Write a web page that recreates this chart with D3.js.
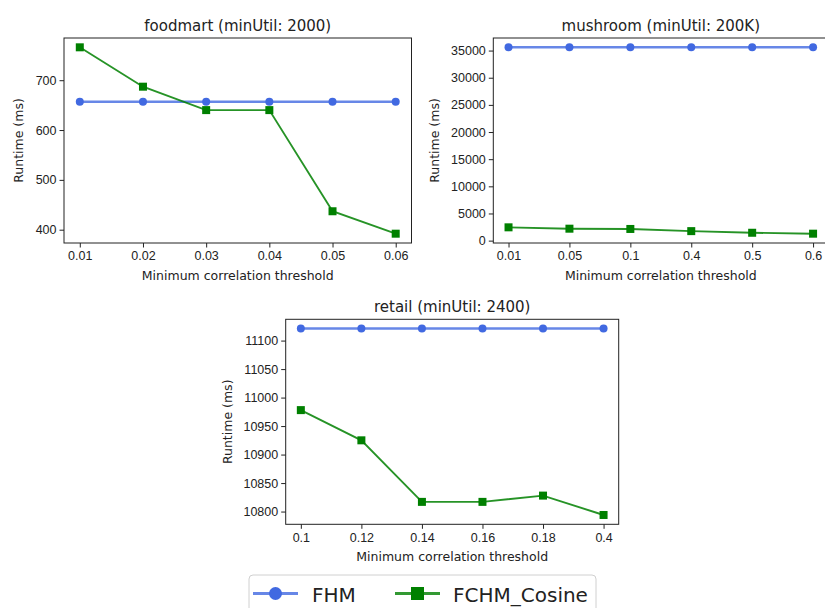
<!DOCTYPE html>
<html>
<head>
<meta charset="utf-8">
<script src="https://cdn.jsdelivr.net/npm/d3@7"></script>
<style>
  body { margin: 0; background: #fff; }
  svg { display: block; font-family: "DejaVu Sans", sans-serif; }
  .axis path, .axis line { stroke: #222; stroke-width: 1; }
  .axis text { fill: #222; font-size: 12.5px; }
</style>
</head>
<body>
<div id="chart"></div>
<script>
// x categories (thresholds)
var foodThresholds = ["0.01", "0.02", "0.03", "0.04", "0.05", "0.06"];
var mushThresholds = ["0.01", "0.05", "0.1", "0.4", "0.5", "0.6"];
var retailThresholds = ["0.1", "0.12", "0.14", "0.16", "0.18", "0.4"];

// runtimes (ms)
var foodFHM = [657, 657, 657, 657, 657, 657];
var foodFCHM = [766, 687, 640, 640, 437, 392];
var mushFHM = [35600, 35600, 35600, 35600, 35600, 35600];
var mushFCHM = [2450, 2200, 2150, 1750, 1450, 1280];
var retailFHM = [11121, 11121, 11121, 11121, 11121, 11121];
var retailFCHM = [10978, 10925, 10817, 10817, 10828, 10794];

// y tick labels
var foodTicks = [400, 500, 600, 700];
var mushTicks = [0, 5000, 10000, 15000, 20000, 25000, 30000, 35000];
var retailTicks = [10800, 10850, 10900, 10950, 11000, 11050, 11100];

var seriesNames = ["FHM", "FCHM_Cosine"];

var W = 825, H = 608;
var blue = "#4169e1", green = "#008000";

var svg = d3.select("#chart").append("svg")
  .attr("width", W)
  .attr("height", H);

var panels = [
  { title: "foodmart (minUtil: 2000)", cats: foodThresholds, fhm: foodFHM, fchm: foodFCHM, ticks: foodTicks,
    left: 64, top: 38, width: 347.5, height: 205, ylab: 18 },
  { title: "mushroom (minUtil: 200K)", cats: mushThresholds, fhm: mushFHM, fchm: mushFCHM, ticks: mushTicks,
    left: 493.3, top: 38, width: 335, height: 205, ylab: 434 },
  { title: "retail (minUtil: 2400)", cats: retailThresholds, fhm: retailFHM, fchm: retailFCHM, ticks: retailTicks,
    left: 285.7, top: 319.3, width: 333, height: 205, ylab: 227 }
];

panels.forEach(function(p) {
  var g = svg.append("g")
    .attr("transform", "translate(" + p.left + "," + p.top + ")");

  var x = d3.scalePoint().domain(p.cats).range([0, p.width]).padding(0.25);

  // matplotlib-style autoscale: 5% margin on the data range
  var all = p.fhm.concat(p.fchm);
  var lo = d3.min(all), hi = d3.max(all), m = (hi - lo) * 0.05;
  var y = d3.scaleLinear().domain([lo - m, hi + m]).range([p.height, 0]);

  g.append("rect")
    .attr("width", p.width)
    .attr("height", p.height)
    .attr("fill", "none")
    .attr("stroke", "#222")
    .attr("stroke-width", 1);

  g.append("g")
    .attr("class", "axis")
    .attr("transform", "translate(0," + p.height + ")")
    .call(d3.axisBottom(x).tickSize(4.5).tickPadding(4))
    .call(function(a) { a.select(".domain").remove(); });

  g.append("g")
    .attr("class", "axis")
    .call(d3.axisLeft(y).tickValues(p.ticks).tickFormat(d3.format("d")).tickSize(4.5).tickPadding(3))
    .call(function(a) { a.select(".domain").remove(); });

  g.append("text")
    .attr("x", p.width / 2)
    .attr("y", -7.5)
    .attr("text-anchor", "middle")
    .attr("font-size", 15)
    .attr("fill", "#222")
    .text(p.title);

  g.append("text")
    .attr("x", p.width / 2)
    .attr("y", p.height + 36.5)
    .attr("text-anchor", "middle")
    .attr("font-size", 12.5)
    .attr("fill", "#222")
    .text("Minimum correlation threshold");

  svg.append("text")
    .attr("transform", "translate(" + (p.ylab + 5) + "," + (p.top + p.height / 2) + ") rotate(-90)")
    .attr("text-anchor", "middle")
    .attr("font-size", 12.5)
    .attr("fill", "#222")
    .text("Runtime (ms)");

  var line = d3.line()
    .x(function(d, i) { return x(p.cats[i]); })
    .y(function(d) { return y(d); });

  // FHM
  g.append("path")
    .datum(p.fhm)
    .attr("d", line)
    .attr("fill", "none")
    .attr("stroke", blue)
    .attr("stroke-opacity", 0.8)
    .attr("stroke-width", 2.5);

  g.selectAll(".fhm-dot")
    .data(p.fhm)
    .enter().append("circle")
    .attr("class", "fhm-dot")
    .attr("cx", function(d, i) { return x(p.cats[i]); })
    .attr("cy", function(d) { return y(d); })
    .attr("r", 4)
    .attr("fill", blue);

  // FCHM_Cosine
  g.append("path")
    .datum(p.fchm)
    .attr("d", line)
    .attr("fill", "none")
    .attr("stroke", green)
    .attr("stroke-opacity", 0.85)
    .attr("stroke-width", 1.9);

  g.selectAll(".fchm-sq")
    .data(p.fchm)
    .enter().append("rect")
    .attr("class", "fchm-sq")
    .attr("x", function(d, i) { return x(p.cats[i]) - 4; })
    .attr("y", function(d) { return y(d) - 4; })
    .attr("width", 8)
    .attr("height", 8)
    .attr("fill", green);
});

// legend
var legend = svg.append("g").attr("transform", "translate(249,575)");
legend.append("rect")
  .attr("width", 347)
  .attr("height", 45)
  .attr("rx", 4)
  .attr("fill", "#fff")
  .attr("stroke", "#d0d0d0")
  .attr("stroke-width", 1);

var legendItems = [
  { name: seriesNames[0], color: blue, shape: "circle", lx: 4, tx: 63 },
  { name: seriesNames[1], color: green, shape: "square", lx: 146, tx: 204 }
];

legendItems.forEach(function(it) {
  var ly = 18.5;
  legend.append("line")
    .attr("x1", it.lx).attr("x2", it.lx + 45)
    .attr("y1", ly).attr("y2", ly)
    .attr("stroke", it.color)
    .attr("stroke-opacity", 0.8)
    .attr("stroke-width", 3);
  if (it.shape === "circle") {
    legend.append("circle")
      .attr("cx", it.lx + 22.5).attr("cy", ly).attr("r", 6.5)
      .attr("fill", it.color);
  } else {
    legend.append("rect")
      .attr("x", it.lx + 16).attr("y", ly - 6.5)
      .attr("width", 13).attr("height", 13)
      .attr("fill", it.color);
  }
  legend.append("text")
    .attr("x", it.tx)
    .attr("y", ly + 8)
    .attr("font-size", 20)
    .attr("fill", "#222")
    .text(it.name);
});
</script>
</body>
</html>
